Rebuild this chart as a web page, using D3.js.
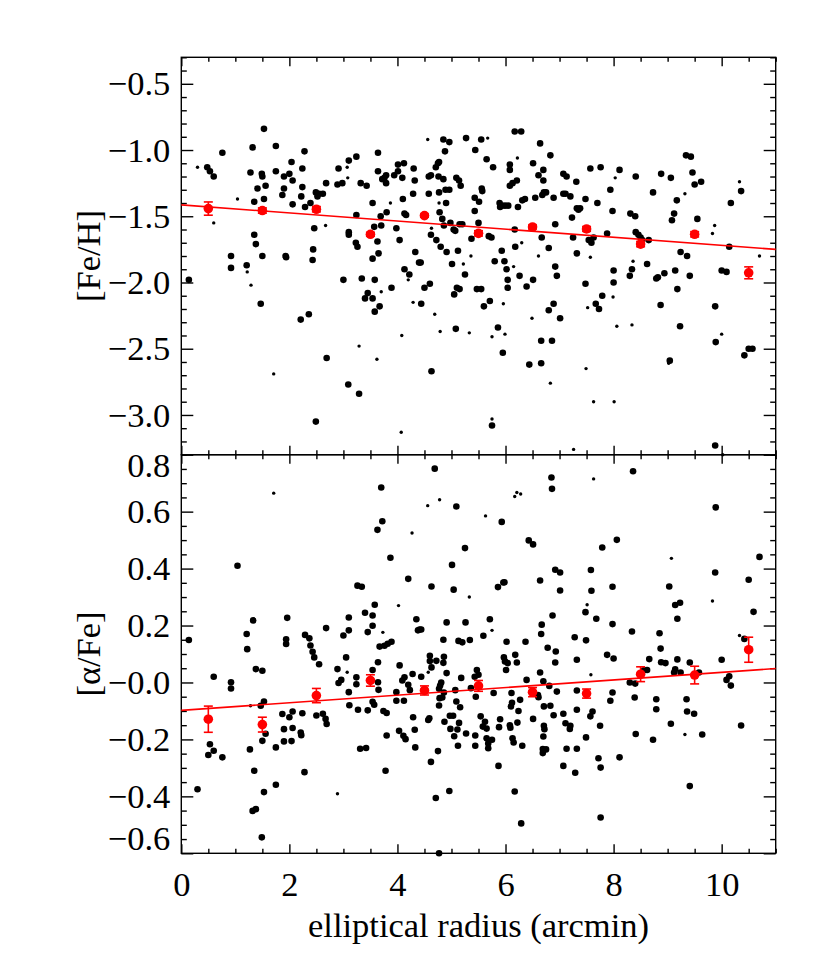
<!DOCTYPE html>
<html><head><meta charset="utf-8">
<script src="https://cdn.jsdelivr.net/npm/d3@7"></script>
<style>
body{margin:0;background:#fff}
svg{display:block}
</style>
</head><body>
<svg id="chart" width="830" height="969"></svg>
<script>
// ---------------- data ----------------
const xTickValues = [0, 2, 4, 6, 8, 10];
const xTickLabels = ["0", "2", "4", "6", "8", "10"];
const fehTickValues = [-0.5, -1.0, -1.5, -2.0, -2.5, -3.0];
const fehTickLabels = ["\u22120.5", "\u22121.0", "\u22121.5", "\u22122.0", "\u22122.5", "\u22123.0"];
const afeTickValues = [0.8, 0.6, 0.4, 0.2, 0.0, -0.2, -0.4, -0.6];
const afeTickLabels = ["0.8", "0.6", "0.4", "0.2", "\u22120.0", "\u22120.2", "\u22120.4", "\u22120.6"];

const xTitle = "elliptical radius (arcmin)";
const fehTitle = "[Fe/H]";
const afeTitle = "[\u03b1/Fe]";

// binned means (red)
const binR = [0.5, 1.5, 2.5, 3.5, 4.5, 5.5, 6.5, 7.5, 8.5, 9.5, 10.5];
const binFeH = [-1.442, -1.457, -1.447, -1.636, -1.495, -1.629, -1.581, -1.596, -1.710, -1.636, -1.927];
const binFeHErr = [0.05, 0.02, 0.02, 0.015, 0.012, 0.02, 0.015, 0.018, 0.02, 0.02, 0.045];
const binAFe = [-0.129, -0.148, -0.046, 0.007, -0.028, -0.012, -0.034, -0.039, 0.029, 0.026, 0.115];
const binAFeErr = [0.046, 0.026, 0.025, 0.02, 0.016, 0.019, 0.016, 0.016, 0.026, 0.031, 0.044];

// linear fits (endpoints at r = 0 and r = 11)
const fitR = [0, 11];
const fitFeH = [-1.414, -1.75];
const fitAFe = [-0.098, 0.049];

// individual stars: [radius, value, bigDot]
const starsFeH = [
[0.14,-1.98,1],[0.30,-1.13,0],[0.48,-1.13,1],[0.53,-1.16,1],[0.60,-1.20,1],[0.60,-1.55,0],[0.76,-1.02,1],[0.92,-1.80,1],[0.92,-1.89,1],[1.04,-1.37,0],[1.21,-1.87,1],[1.22,-1.92,0],[1.29,-2.02,0],[1.28,-1.17,1],[1.32,-0.98,1],[1.35,-1.39,1],[1.35,-1.64,1],[1.38,-1.71,1],[1.41,-1.29,1],[1.47,-2.16,1],[1.49,-1.18,1],[1.50,-1.20,1],[1.53,-1.37,1],[1.50,-1.80,1],[1.53,-0.84,1],[1.56,-1.27,1],[1.71,-2.69,0],[1.75,-0.97,1],[1.75,-1.16,1],[1.87,-1.34,1],[1.90,-1.20,1],[1.90,-1.29,1],[1.93,-1.80,1],[1.94,-1.81,1],[2.00,-1.18,1],[2.04,-1.09,1],[2.06,-1.23,1],[2.06,-1.41,1],[2.21,-2.28,1],[2.22,-1.35,1],[2.24,-1.14,1],[2.24,-1.28,1],[2.28,-1.01,1],[2.29,-1.43,1],[2.36,-2.24,1],[2.39,-1.40,1],[2.43,-1.83,1],[2.44,-1.75,1],[2.46,-1.59,1],[2.49,-3.05,1],[2.49,-1.32,1],[2.52,-1.35,1],[2.55,-1.33,1],[2.62,-1.33,1],[2.67,-1.57,0],[2.68,-1.25,1],[2.69,-2.57,1],
[2.89,-1.26,1],[2.98,-1.25,1],[2.91,-1.14,1],[3.00,-1.98,1],[3.07,-1.13,0],[3.08,-1.21,0],[3.10,-1.08,1],[3.10,-1.62,1],[3.10,-1.64,1],[3.09,-2.77,1],[3.24,-1.05,1],[3.24,-1.49,1],[3.23,-1.70,1],[3.26,-1.73,1],[3.29,-2.48,0],[3.29,-2.84,1],[3.32,-1.25,1],[3.34,-1.97,1],[3.40,-2.12,1],[3.43,-1.27,1],[3.45,-2.08,1],[3.54,-1.40,1],[3.54,-2.12,1],[3.54,-1.82,1],[3.57,-1.58,1],[3.58,-1.98,1],[3.58,-2.22,1],[3.62,-2.58,0],[3.63,-1.69,1],[3.64,-1.02,1],[3.64,-1.16,1],[3.65,-1.78,1],[3.67,-2.18,1],[3.69,-1.50,1],[3.70,-1.57,1],[3.70,-2.07,0],[3.72,-1.22,1],[3.76,-1.21,1],[3.79,-1.25,1],[3.79,-1.19,1],[3.80,-1.47,1],[3.87,-1.40,0],[3.89,-2.04,1],[3.94,-1.19,1],[3.98,-1.59,1],
[4.01,-1.16,1],[4.01,-1.11,1],[4.04,-1.68,1],[4.07,-3.13,0],[4.08,-2.40,0],[4.09,-1.21,1],[4.10,-1.37,1],[4.12,-1.10,1],[4.13,-1.48,1],[4.13,-1.90,1],[4.16,-1.49,1],[4.20,-1.98,0],[4.22,-1.94,1],[4.29,-1.33,1],[4.29,-2.15,0],[4.30,-1.14,1],[4.32,-1.23,1],[4.33,-1.77,1],[4.40,-1.85,1],[4.43,-1.85,1],[4.44,-2.16,1],[4.50,-2.04,1],[4.56,-0.92,0],[4.58,-1.20,1],[4.58,-1.33,1],[4.60,-2.01,1],[4.62,-1.19,1],[4.62,-1.64,1],[4.63,-1.59,0],[4.63,-2.67,1],[4.69,-2.24,0],[4.71,-1.13,1],[4.72,-1.68,1],[4.75,-1.10,1],[4.77,-1.09,1],[4.76,-1.20,1],[4.77,-1.32,1],[4.77,-1.40,0],[4.78,-1.47,1],[4.79,-2.37,0],[4.80,-1.73,1],[4.83,-1.52,1],[4.85,-0.92,1],[4.85,-1.22,1],[4.86,-1.57,1],[4.88,-1.01,1],[4.89,-1.30,1],[4.90,-1.40,1],[4.91,-1.77,1],[4.96,-0.94,1],[4.96,-1.30,1],[4.98,-1.55,1],
[5.01,-1.86,1],[5.04,-1.60,1],[5.05,-2.09,1],[5.07,-1.61,1],[5.08,-2.35,1],[5.09,-1.21,1],[5.10,-2.04,1],[5.12,-1.76,1],[5.14,-1.23,1],[5.15,-2.05,1],[5.15,-1.56,1],[5.17,-1.27,1],[5.20,-1.56,1],[5.22,-1.86,0],[5.25,-1.94,1],[5.27,-0.91,1],[5.33,-2.38,0],[5.36,-1.80,0],[5.37,-1.67,1],[5.43,-1.46,1],[5.44,-1.00,1],[5.43,-1.36,1],[5.47,-2.05,1],[5.50,-1.55,1],[5.51,-1.39,1],[5.55,-0.92,1],[5.55,-2.05,1],[5.56,-1.29,1],[5.57,-1.31,1],[5.60,-2.18,1],[5.65,-1.07,1],[5.67,-0.91,0],[5.69,-1.65,1],[5.71,-2.14,1],[5.74,-1.66,1],[5.75,-2.41,0],[5.75,-3.03,0],[5.75,-3.08,1],[5.77,-1.13,1],[5.80,-1.84,1],[5.86,-2.34,1],[5.89,-1.40,1],[5.90,-1.43,1],[5.93,-1.42,1],[5.93,-1.76,1],[5.95,-2.53,1],[5.96,-2.16,0],[5.98,-1.84,1],[5.99,-2.39,0],[5.99,-1.42,1],
[6.02,-1.90,1],[6.04,-1.98,1],[6.04,-2.04,1],[6.05,-1.42,1],[6.08,-1.11,1],[6.08,-1.15,1],[6.08,-1.27,1],[6.13,-1.25,1],[6.15,-1.88,0],[6.17,-0.86,1],[6.17,-1.60,1],[6.18,-1.73,1],[6.21,-1.23,1],[6.22,-1.06,0],[6.23,-1.43,1],[6.26,-1.95,1],[6.29,-0.86,1],[6.30,-1.70,0],[6.31,-1.38,1],[6.36,-1.37,1],[6.39,-2.03,1],[6.44,-2.62,1],[6.49,-2.27,0],[6.51,-1.10,1],[6.51,-1.98,1],[6.55,-1.36,1],[6.61,-1.19,1],[6.61,-1.80,0],[6.64,-0.95,1],[6.66,-2.44,1],[6.66,-2.61,1],[6.67,-1.66,1],[6.68,-1.34,1],[6.70,-1.23,1],[6.70,-1.15,1],[6.71,-1.32,1],[6.75,-1.32,1],[6.80,-2.21,1],[6.80,-1.74,1],[6.83,-1.04,1],[6.83,-2.76,0],[6.86,-2.44,1],[6.89,-1.36,1],[6.89,-2.16,1],[6.92,-1.56,1],[6.92,-1.88,1],[6.94,-1.96,0],[6.95,-1.95,1],
[7.01,-2.27,1],[7.07,-1.18,1],[7.07,-1.33,1],[7.11,-1.33,1],[7.13,-1.20,1],[7.20,-1.35,1],[7.23,-1.51,1],[7.25,-1.66,1],[7.26,-3.26,0],[7.31,-1.24,1],[7.32,-1.44,1],[7.32,-1.78,1],[7.35,-1.45,1],[7.38,-1.44,1],[7.48,-1.37,1],[7.48,-2.01,1],[7.49,-2.65,0],[7.52,-2.19,0],[7.54,-1.68,1],[7.57,-1.14,1],[7.57,-1.81,0],[7.59,-1.70,1],[7.63,-1.66,1],[7.63,-2.90,0],[7.67,-2.16,1],[7.70,-1.40,1],[7.73,-2.20,1],[7.76,-1.13,1],[7.79,-2.10,1],[7.88,-1.63,1],[7.94,-1.30,1],[7.98,-1.46,1],[8.00,-1.91,1],[8.00,-2.00,1],[7.99,-2.11,0],[8.01,-2.90,0],[8.03,-1.21,0],[8.06,-2.33,0],[8.11,-1.15,1],
[8.30,-1.95,1],[8.31,-1.48,1],[8.34,-2.32,0],[8.34,-1.90,1],[8.36,-1.84,0],[8.40,-1.50,1],[8.41,-1.20,1],[8.41,-1.62,1],[8.46,-1.64,1],[8.50,-1.66,1],[8.53,-1.68,1],[8.62,-1.86,1],[8.65,-1.68,1],[8.73,-1.32,1],[8.79,-1.97,1],[8.82,-1.96,1],[8.87,-2.17,1],[8.88,-1.18,1],[8.94,-1.93,1],[9.02,-2.61,0],[9.04,-2.59,1],[9.06,-1.21,1],[9.08,-1.53,1],[9.12,-1.48,1],[9.14,-1.91,1],[9.17,-1.38,1],[9.18,-2.05,1],[9.23,-2.33,1],[9.24,-1.77,1],[9.32,-1.33,0],[9.34,-1.04,1],[9.36,-1.80,1],[9.41,-1.95,1],[9.43,-1.05,1],[9.46,-1.17,1],[9.50,-1.26,1],[9.55,-1.52,1],[9.62,-1.24,1],[9.83,-1.63,0],[9.87,-1.57,0],[9.88,-2.18,1],[9.89,-2.45,1],[9.88,-3.23,1],[10.00,-2.39,0],[10.00,-1.91,1],[10.02,-3.30,0],[10.09,-1.92,1],[10.14,-1.73,1],[10.17,-1.40,1],[10.33,-1.24,0],[10.36,-1.31,1],[10.42,-2.55,1],[10.50,-2.50,1],[10.57,-2.50,1],[10.70,-1.80,0]
];

const starsAFe = [
[0.14,0.149,1],[0.30,-0.375,1],[0.50,-0.255,1],[0.53,-0.217,1],[0.60,0.020,1],[0.60,-0.240,1],[0.76,-0.263,1],[0.92,0.001,1],[0.92,-0.021,1],[1.04,0.410,1],[1.21,0.170,1],[1.22,0.117,1],[1.27,-0.235,1],[1.28,-0.082,0],[1.33,0.218,1],[1.35,-0.310,1],[1.32,-0.451,1],[1.38,-0.445,1],[1.38,0.047,1],[1.47,-0.082,1],[1.50,0.041,1],[1.50,-0.205,1],[1.53,-0.067,1],[1.56,-0.180,1],[1.49,-0.544,1],[1.53,-0.385,1],[1.71,0.665,0],[1.75,-0.228,1],[1.75,-0.359,1],[1.87,-0.111,1],[1.90,-0.164,1],[1.90,-0.207,1],[1.94,0.152,1],[1.94,0.135,1],[1.96,0.227,1],[2.00,-0.122,1],[2.04,-0.206,1],[2.06,-0.102,1],[2.06,-0.160,1],[2.21,-0.176,1],[2.22,-0.185,1],[2.24,-0.108,1],[2.28,-0.315,1],[2.29,0.167,1],[2.37,0.155,1],[2.39,0.130,1],[2.43,0.108,1],[2.46,0.088,1],[2.50,-0.116,1],[2.55,0.064,1],[2.62,-0.110,1],[2.67,-0.128,1],[2.68,0.191,1],[2.69,-0.146,1],
[2.89,0.047,1],[2.89,-0.391,0],[2.91,-0.002,1],[2.96,0.009,1],[3.00,0.165,1],[3.05,0.088,1],[3.07,0.036,0],[3.10,0.183,1],[3.10,0.228,1],[3.10,-0.034,1],[3.11,-0.080,1],[3.24,0.018,1],[3.24,-0.006,1],[3.26,0.340,1],[3.27,-0.096,1],[3.31,-0.233,1],[3.34,0.336,1],[3.40,0.245,1],[3.42,-0.230,1],[3.45,0.177,1],[3.45,-0.098,1],[3.54,0.199,1],[3.54,0.235,1],[3.54,0.044,1],[3.54,-0.068,1],[3.57,-0.078,1],[3.58,0.273,1],[3.63,0.536,1],[3.64,0.071,1],[3.64,0.001,1],[3.65,-0.026,1],[3.67,0.126,1],[3.70,0.685,1],[3.72,0.566,1],[3.73,0.176,0],[3.74,-0.100,1],[3.76,0.129,1],[3.78,-0.310,1],[3.80,-0.107,1],[3.80,-0.186,1],[3.82,0.136,1],[3.87,0.438,1],[3.89,0.143,1],[3.98,-0.034,1],[3.98,-0.064,1],
[4.02,0.270,0],[4.03,-0.170,1],[4.04,0.060,1],[4.09,0.007,1],[4.11,-0.187,1],[4.12,-0.064,1],[4.13,0.018,1],[4.15,-0.199,1],[4.20,0.364,1],[4.20,-0.008,1],[4.23,-0.027,1],[4.27,0.525,0],[4.28,0.030,1],[4.29,-0.122,1],[4.32,-0.166,1],[4.33,-0.228,1],[4.35,0.222,1],[4.38,0.183,1],[4.41,0.186,1],[4.44,0.186,1],[4.44,0.020,1],[4.56,0.621,0],[4.57,-0.132,1],[4.57,0.036,0],[4.59,-0.126,1],[4.60,0.094,1],[4.60,0.075,1],[4.62,-0.279,1],[4.63,0.337,1],[4.63,0.053,1],[4.69,0.751,1],[4.71,-0.406,1],[4.72,0.076,1],[4.75,-0.241,1],[4.77,-0.022,1],[4.77,-0.081,1],[4.78,0.642,0],[4.78,-0.055,1],[4.79,-0.011,1],[4.81,0.000,1],[4.83,-0.053,1],[4.85,0.069,1],[4.85,0.150,1],[4.86,0.090,1],[4.86,-0.035,1],[4.87,-0.138,1],[4.91,0.033,1],[4.91,0.211,1],[4.96,-0.381,1],[4.97,-0.117,1],[4.98,-0.163,1],[4.77,-0.600,1],
[5.01,0.413,1],[5.03,-0.117,1],[5.04,0.326,1],[5.05,-0.189,1],[5.07,-0.027,1],[5.09,-0.067,1],[5.09,0.618,1],[5.11,-0.165,1],[5.12,-0.222,1],[5.13,0.146,1],[5.14,-0.142,1],[5.16,-0.087,1],[5.18,0.016,1],[5.20,0.141,1],[5.25,0.472,1],[5.26,0.211,1],[5.27,-0.179,1],[5.33,0.300,0],[5.34,0.149,1],[5.36,-0.020,1],[5.43,0.020,1],[5.44,-0.186,1],[5.44,-0.222,1],[5.45,-0.050,1],[5.47,0.044,1],[5.50,0.027,1],[5.54,-0.119,1],[5.58,-0.155,1],[5.59,0.164,1],[5.62,-0.138,1],[5.63,0.585,0],[5.65,-0.162,1],[5.65,-0.196,1],[5.68,-0.214,1],[5.68,-0.231,1],[5.71,0.222,1],[5.75,0.183,0],[5.75,-0.201,1],[5.78,-0.037,1],[5.86,0.335,1],[5.87,-0.293,1],[5.88,-0.157,1],[5.90,-0.129,1],[5.93,0.564,1],[5.96,0.351,1],[5.97,0.088,1],[5.98,0.352,1],[5.99,0.074,1],
[6.01,0.044,1],[6.02,0.143,1],[6.04,0.068,1],[6.08,-0.150,1],[6.09,-0.159,1],[6.10,-0.084,1],[6.11,-0.037,1],[6.12,-0.071,1],[6.13,-0.196,1],[6.15,-0.211,1],[6.17,-0.383,1],[6.17,0.653,0],[6.18,0.097,1],[6.21,0.070,1],[6.21,0.667,0],[6.22,-0.141,1],[6.24,-0.100,1],[6.27,-0.061,1],[6.28,0.662,0],[6.29,-0.495,1],[6.31,-0.222,1],[6.37,0.143,1],[6.39,0.009,1],[6.43,0.499,1],[6.51,0.485,1],[6.51,-0.128,1],[6.60,-0.044,1],[6.61,-0.052,1],[6.64,0.358,1],[6.64,0.035,1],[6.66,0.170,1],[6.67,0.203,1],[6.69,-0.234,1],[6.69,-0.248,1],[6.70,-0.190,1],[6.70,0.004,1],[6.71,-0.084,1],[6.71,-0.152,1],[6.72,-0.164,1],[6.75,-0.235,1],[6.78,0.122,1],[6.81,-0.012,1],[6.83,-0.082,1],[6.85,0.720,1],[6.86,0.680,1],[6.87,0.235,1],[6.89,-0.115,1],[6.92,0.396,1],[6.92,0.070,1],[6.93,0.109,1],[6.95,-0.032,1],
[7.01,0.386,1],[7.01,0.323,1],[7.07,-0.110,1],[7.07,-0.293,1],[7.11,-0.143,1],[7.13,-0.233,1],[7.19,-0.163,1],[7.20,-0.152,1],[7.28,0.159,1],[7.29,-0.317,1],[7.32,0.080,1],[7.32,-0.096,1],[7.32,-0.233,1],[7.32,-0.028,1],[7.48,0.247,1],[7.49,0.148,1],[7.49,-0.193,1],[7.51,0.273,0],[7.58,0.395,1],[7.59,0.322,1],[7.58,0.027,0],[7.57,-0.119,1],[7.61,-0.102,1],[7.63,0.715,0],[7.68,0.224,1],[7.72,-0.266,1],[7.75,-0.152,1],[7.76,-0.299,1],[7.76,-0.474,1],[7.79,0.474,1],[7.88,0.097,1],[7.94,-0.064,1],[7.98,0.336,1],[7.98,0.205,1],[8.00,0.084,1],[7.98,-0.035,1],[8.06,0.501,1],[8.11,-0.263,1],
[8.30,0.000,1],[8.34,0.179,1],[8.36,0.742,1],[8.39,-0.053,1],[8.41,-0.181,1],[8.40,-0.004,1],[8.56,0.043,1],[8.62,0.044,1],[8.66,0.082,1],[8.73,-0.201,1],[8.79,-0.059,1],[8.79,-0.094,1],[8.85,0.173,1],[8.87,0.119,1],[8.88,0.071,1],[8.96,0.068,1],[9.03,0.337,1],[9.06,-0.145,1],[9.07,0.436,0],[9.12,0.035,1],[9.14,0.272,1],[9.14,0.046,1],[9.18,0.224,1],[9.18,0.081,1],[9.23,0.280,1],[9.24,0.035,1],[9.32,-0.183,0],[9.35,-0.059,1],[9.36,-0.102,1],[9.41,-0.364,1],[9.41,0.070,1],[9.49,-0.110,1],[9.58,0.035,1],[9.64,-0.183,1],[9.83,0.286,0],[9.88,0.386,1],[9.89,0.615,1],[10.00,0.080,1],[10.09,0.009,1],[10.14,0.022,1],[10.17,-0.011,1],[10.33,0.165,0],[10.36,-0.151,1],[10.42,0.153,1],[10.50,0.361,1],[10.59,0.248,1],[10.70,0.441,1]
];

// ---------------- layout ----------------
const FONT = '"Liberation Serif","Times New Roman",Times,serif';
const FS = 34.5;
const L = 181.3, R = 775.7;
const P1 = {top: 57.3, bottom: 454.7};
const P2 = {top: 454.7, bottom: 853.3};

const x = d3.scaleLinear().domain([0, 11]).range([L, R]);
const yF = d3.scaleLinear().domain([-3.3, -0.3]).range([P1.bottom, P1.top]);
const yA = d3.scaleLinear().domain([-0.6, 0.8]).range([P2.bottom, P2.top]);

const svg = d3.select("#chart");
svg.append("rect").attr("width", 830).attr("height", 969).attr("fill", "#fff");

const xMinor = d3.range(0, 11.001, 0.5).filter(v => Math.abs(v / 2 - Math.round(v / 2)) > 1e-6);
const fehMinor = d3.range(-3.3, -0.29, 0.1).map(v => +v.toFixed(2)).filter(v => Math.abs(v * 2 - Math.round(v * 2)) > 1e-6);
const afeMinor = d3.range(-0.6, 0.801, 0.05).map(v => +v.toFixed(2)).filter(v => Math.abs(v * 5 - Math.round(v * 5)) > 1e-6);

const SW = 1.4;
function styleAxis(g) {
  g.select(".domain").remove();
  g.selectAll(".tick line").attr("stroke", "#000").attr("stroke-width", SW);
  g.selectAll(".tick text").attr("font-family", FONT).attr("font-size", FS).attr("fill", "#000");
  g.attr("font-family", null).attr("font-size", null);
}

function panel(y, p, majors, labels, minors, showX) {
  const g = svg.append("g");
  // left axis with labels
  const la = g.append("g").attr("transform", `translate(${L},0)`)
    .call(d3.axisLeft(y).tickValues(majors).tickSizeInner(-12).tickSizeOuter(0).tickPadding(11)
      .tickFormat((d, i) => labels[i]))
    .call(styleAxis);
  // end labels sitting on the panel edges are nudged inside the frame
  la.selectAll(".tick text").attr("dy", d => {
    const py = y(d);
    if (Math.abs(py - p.bottom) < 2) return "-0.02em";
    return "0.32em";
  }).attr("transform", d => {
    const py = y(d);
    if (Math.abs(py - p.top) < 2) return "translate(0,11)";
    if (Math.abs(py - p.bottom) < 2) return "translate(0,-3)";
    return null;
  });
  g.append("g").attr("transform", `translate(${L},0)`)
    .call(d3.axisLeft(y).tickValues(minors).tickSizeInner(-5.5).tickSizeOuter(0).tickFormat(""))
    .call(styleAxis);
  // right axis
  g.append("g").attr("transform", `translate(${R},0)`)
    .call(d3.axisRight(y).tickValues(majors).tickSizeInner(-12).tickSizeOuter(0).tickFormat(""))
    .call(styleAxis);
  g.append("g").attr("transform", `translate(${R},0)`)
    .call(d3.axisRight(y).tickValues(minors).tickSizeInner(-5.5).tickSizeOuter(0).tickFormat(""))
    .call(styleAxis);
  // top axis
  g.append("g").attr("transform", `translate(0,${p.top})`)
    .call(d3.axisTop(x).tickValues(xTickValues).tickSizeInner(-9).tickSizeOuter(0).tickFormat(""))
    .call(styleAxis);
  g.append("g").attr("transform", `translate(0,${p.top})`)
    .call(d3.axisTop(x).tickValues(xMinor).tickSizeInner(-4.5).tickSizeOuter(0).tickFormat(""))
    .call(styleAxis);
  // bottom axis
  g.append("g").attr("transform", `translate(0,${p.bottom})`)
    .call(d3.axisBottom(x).tickValues(xTickValues).tickSizeInner(-9).tickSizeOuter(0).tickPadding(18)
      .tickFormat((d, i) => showX ? xTickLabels[i] : ""))
    .call(styleAxis);
  g.append("g").attr("transform", `translate(0,${p.bottom})`)
    .call(d3.axisBottom(x).tickValues(xMinor).tickSizeInner(-4.5).tickSizeOuter(0).tickFormat(""))
    .call(styleAxis);
  // frame
  g.append("rect").attr("x", L).attr("y", p.top).attr("width", R - L).attr("height", p.bottom - p.top)
    .attr("fill", "none").attr("stroke", "#000").attr("stroke-width", SW);
  return g;
}

function drawData(y, stars, binV, binE, fitV) {
  const g = svg.append("g");
  g.selectAll("circle.star").data(stars).join("circle")
    .attr("class", "star")
    .attr("cx", d => x(d[0])).attr("cy", d => y(d[1]))
    .attr("r", d => d[2] ? 3.3 : 1.7).attr("fill", "#000");
  g.append("path")
    .datum(fitR.map((r, i) => [r, fitV[i]]))
    .attr("d", d3.line().x(d => x(d[0])).y(d => y(d[1])))
    .attr("stroke", "#ff0000").attr("stroke-width", 1.6).attr("fill", "none");
  const bins = binR.map((r, i) => ({r, v: binV[i], e: binE[i]}));
  const eb = g.selectAll("g.eb").data(bins).join("g").attr("class", "eb")
    .attr("stroke", "#ff0000").attr("stroke-width", 1.6);
  eb.append("line").attr("x1", d => x(d.r)).attr("x2", d => x(d.r))
    .attr("y1", d => y(d.v - d.e)).attr("y2", d => y(d.v + d.e));
  eb.append("line").attr("x1", d => x(d.r) - 4.5).attr("x2", d => x(d.r) + 4.5)
    .attr("y1", d => y(d.v - d.e)).attr("y2", d => y(d.v - d.e));
  eb.append("line").attr("x1", d => x(d.r) - 4.5).attr("x2", d => x(d.r) + 4.5)
    .attr("y1", d => y(d.v + d.e)).attr("y2", d => y(d.v + d.e));
  g.selectAll("circle.bin").data(bins).join("circle").attr("class", "bin")
    .attr("cx", d => x(d.r)).attr("cy", d => y(d.v)).attr("r", 4.8).attr("fill", "#ff0000");
}

panel(yF, P1, fehTickValues, fehTickLabels, fehMinor, false);
panel(yA, P2, afeTickValues, afeTickLabels, afeMinor, true);
drawData(yF, starsFeH, binFeH, binFeHErr, fitFeH);
drawData(yA, starsAFe, binAFe, binAFeErr, fitAFe);

// titles
svg.append("text").attr("x", (L + R) / 2).attr("y", 937)
  .attr("text-anchor", "middle").attr("font-family", FONT).attr("font-size", FS).text(xTitle);
svg.append("text").attr("transform", `translate(100,${(P1.top + P1.bottom) / 2}) rotate(-90)`)
  .attr("text-anchor", "middle").attr("font-family", FONT).attr("font-size", FS).text(fehTitle);
svg.append("text").attr("transform", `translate(100,${(P2.top + P2.bottom) / 2}) rotate(-90)`)
  .attr("text-anchor", "middle").attr("font-family", FONT).attr("font-size", FS).text(afeTitle);
</script>
</body></html>
